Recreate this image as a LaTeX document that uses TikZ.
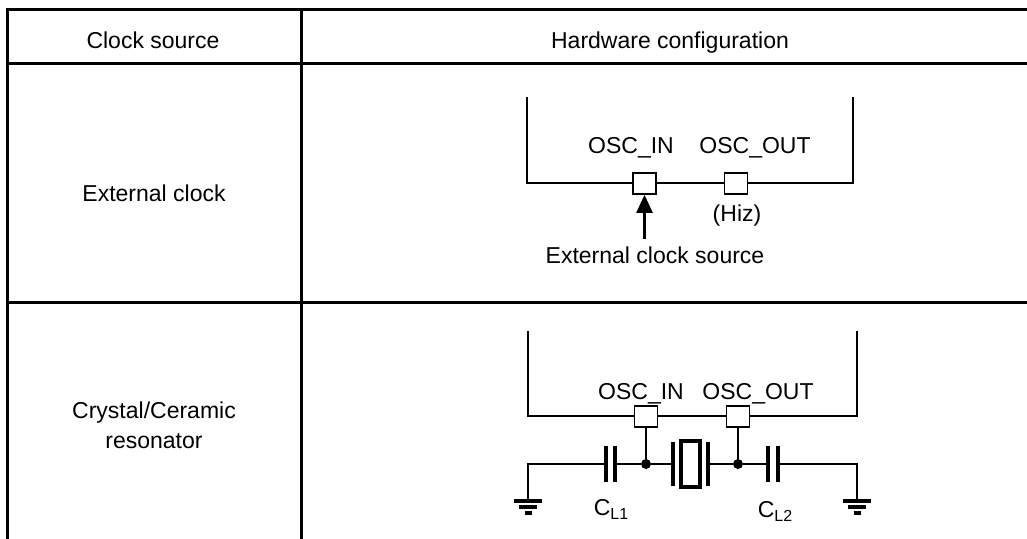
\documentclass[tikz,border=0pt]{standalone}
\usepackage{fontspec}
\setmainfont{Liberation Sans}
\usetikzlibrary{arrows.meta}
\newcommand{\sub}[1]{\raisebox{-0.35ex}{\fontsize{16}{16}\selectfont #1}}
\begin{document}
\begin{tikzpicture}[x=1pt,y=-1pt,
  tbl/.style={line width=3pt},
  wire/.style={line width=2.3pt},
  pin/.style={draw,line width=1.6pt,fill=white,minimum width=23pt,minimum height=21pt,inner sep=0pt},
  lbl/.style={anchor=base,inner sep=0pt,font=\fontsize{23}{27}\selectfont},
  plate/.style={line width=4.2pt},
  gnd/.style={line width=3.2pt},
  dot/.style={circle,fill=black,inner sep=0pt,minimum size=10pt}]
\useasboundingbox (0,0) rectangle (1027,538);
% table
\draw[tbl] (1030,9) -- (7,9) -- (7,540);
\draw[tbl] (7,63) -- (1030,63);
\draw[tbl] (7,302) -- (1030,302);
\draw[tbl] (301,9) -- (301,540);
\node[lbl] (h1) at (153,48) {Clock source};
\node[lbl] (h2) at (670,48) {Hardware configuration};
\node[lbl] (r1) at (154,201) {External clock};
\node[lbl] (r2a) at (154,418) {Crystal/Ceramic};
\node[lbl] (r2b) at (154,448) {resonator};
% row 1 circuit
\coordinate (a1) at (527,97);
\coordinate (a2) at (527,183);
\coordinate (a3) at (853,183);
\coordinate (a4) at (853,97);
\draw[wire] (a1) -- (a2) -- (a3) -- (a4);
\node[pin] (in1) at (644.5,183.5) {};
\node[pin] (out1) at (736,183.5) {};
\node[lbl] (tin1) at (631,153) {OSC\_IN};
\node[lbl] (tout1) at (755,153) {OSC\_OUT};
\node[lbl] (hiz) at (737,221) {(Hiz)};
\node[lbl] (ext) at (655,263) {External clock source};
\coordinate (src) at (644.5,239);
\draw[wire,-{Triangle[length=18pt,width=16pt]}] (src) -- (in1.south);
% row 2 circuit
\coordinate (b1) at (528,331);
\coordinate (b2) at (528,416);
\coordinate (b3) at (857,416);
\coordinate (b4) at (857,331);
\draw[wire] (b1) -- (b2) -- (b3) -- (b4);
\node[pin] (in2) at (646,416.5) {};
\node[pin] (out2) at (738,416.5) {};
\node[lbl] (tin2) at (641,399) {OSC\_IN};
\node[lbl] (tout2) at (758,399) {OSC\_OUT};
\node[dot] (d1) at (646,464) {};
\node[dot] (d2) at (738,464) {};
\draw[wire] (in2.south) -- (d1);
\draw[wire] (out2.south) -- (d2);
% left capacitor and ground
\coordinate (g1) at (528,501);
\coordinate (c1l) at (606,464);
\coordinate (c1r) at (615,464);
\draw[wire] (g1) -- (528,464) -- (c1l);
\draw[wire] (c1r) -- (d1);
\draw[plate] (606,446) -- (606,482);
\draw[plate] (615,446) -- (615,482);
% crystal
\coordinate (xl) at (673,464);
\coordinate (xr) at (708,464);
\draw[wire] (d1) -- (xl);
\draw[wire] (xr) -- (d2);
\draw[plate] (673,442) -- (673,486);
\draw[plate] (708,442) -- (708,486);
\draw[line width=3.2pt] (681,441) rectangle (700,487);
% right capacitor and ground
\coordinate (c2l) at (768,464);
\coordinate (c2r) at (778,464);
\coordinate (g2) at (857,501);
\draw[wire] (d2) -- (c2l);
\draw[wire] (c2r) -- (857,464) -- (g2);
\draw[plate] (768,446) -- (768,482);
\draw[plate] (778,446) -- (778,482);
% grounds
\foreach \gx in {528,857}{
  \draw[gnd] (\gx-14,501) -- (\gx+14,501);
  \draw[gnd] (\gx-9,507) -- (\gx+9,507);
  \draw[gnd] (\gx-3.5,513) -- (\gx+3.5,513);
}
\node[lbl] (cl1) at (611,515) {C\sub{L1}};
\node[lbl] (cl2) at (775,517) {C\sub{L2}};
\end{tikzpicture}
\end{document}
